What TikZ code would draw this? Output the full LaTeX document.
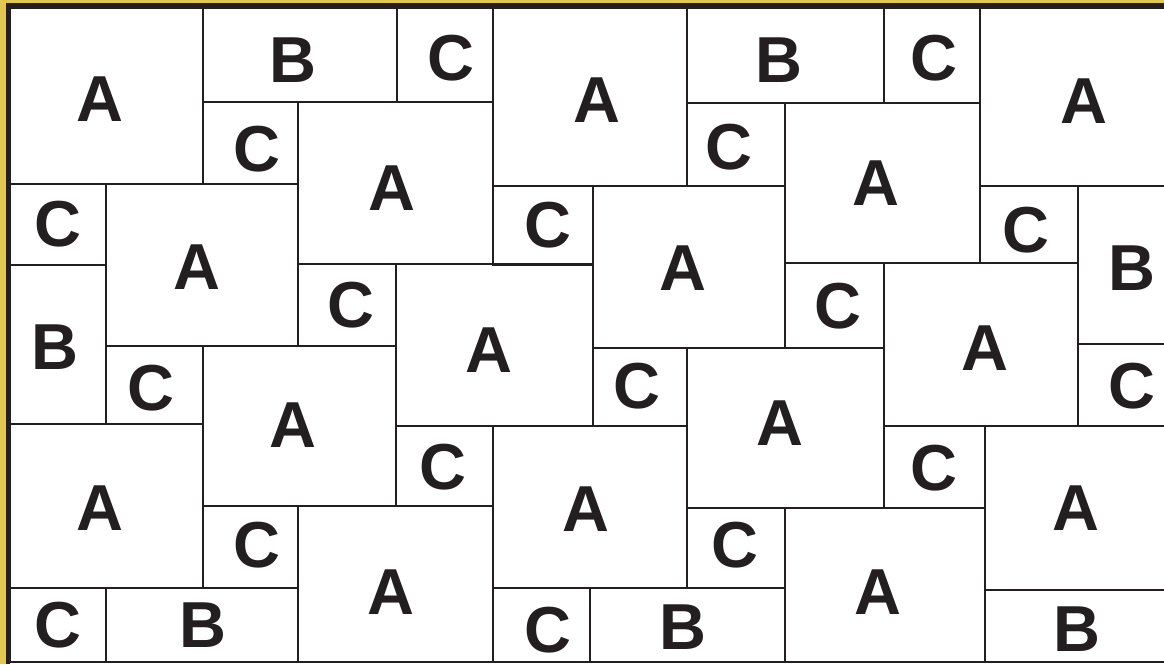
\documentclass[tikz,border=0pt]{standalone}
\usepackage{fontspec}
\setmainfont{Liberation Sans}
\definecolor{gold}{RGB}{226,200,82}
\definecolor{ink}{RGB}{35,31,32}
\begin{document}
\begin{tikzpicture}[x=1pt,y=-1pt,
  tile/.style={draw=ink,line width=2.8pt},
  lbl/.style={font=\fontsize{65}{65}\selectfont\bfseries,text=ink,inner sep=0pt}]
\useasboundingbox (0,0) rectangle (1164,664);
\fill[white] (0,0) rectangle (1164,664);
% tiles
\foreach \xa/\ya/\xb/\yb in {
  10/8/203/184, 203/8/397/102, 397/8/493/102, 203/102/298/184,
  298/102/493/264, 493/8/687/186, 687/8/884/103, 884/8/980/103,
  687/103/785/186, 785/103/980/263, 980/8/1170/186,
  10/184/106/265, 106/184/298/346, 493/186/593/265, 593/186/785/348,
  980/186/1078/263, 1078/186/1170/344,
  298/264/396/346, 396/264/593/426, 10/265/106/424, 785/263/884/348,
  884/263/1078/426, 1078/344/1170/426,
  106/346/203/424, 203/346/396/506, 593/348/687/426, 687/348/884/508,
  10/424/203/588, 396/426/493/506, 493/426/687/588, 884/426/985/508,
  985/426/1170/590,
  203/506/298/588, 298/506/493/662, 687/508/785/588, 785/508/985/662,
  10/588/106/662, 106/588/298/662, 493/588/590/662, 590/588/785/662,
  985/590/1170/662}
  \draw[tile] (\xa,\ya) rectangle (\xb,\yb);
% frame
\fill[gold] (0,0) rectangle (6,664);
\fill[gold] (0,0) rectangle (1164,3);
\fill[ink] (6,3) rectangle (10,664);
\fill[ink] (6,3) rectangle (1164,8);
% labels
\node[lbl] (a1) at (100,99) {A};
\node[lbl] (b1) at (293,60) {B};
\node[lbl] (c1) at (451,58) {C};
\node[lbl] (a2) at (597,100) {A};
\node[lbl] (b2) at (779,60) {B};
\node[lbl] (c2) at (934,58) {C};
\node[lbl] (a3) at (1084,101) {A};
\node[lbl] (c3) at (257,149) {C};
\node[lbl] (a4) at (392,188) {A};
\node[lbl] (c4) at (729,147) {C};
\node[lbl] (a5) at (876,183) {A};
\node[lbl] (c5) at (58,224) {C};
\node[lbl] (a6) at (197,267) {A};
\node[lbl] (c6) at (548,225) {C};
\node[lbl] (a7) at (683,268) {A};
\node[lbl] (c7) at (1026,230) {C};
\node[lbl] (b3) at (1132,268) {B};
\node[lbl] (c8) at (351,305) {C};
\node[lbl] (a8) at (489,350) {A};
\node[lbl] (b4) at (55,347) {B};
\node[lbl] (c9) at (838,306) {C};
\node[lbl] (a9) at (985,348) {A};
\node[lbl] (c10) at (1132,386) {C};
\node[lbl] (c11) at (151,388) {C};
\node[lbl] (a10) at (293,425) {A};
\node[lbl] (c12) at (637,386) {C};
\node[lbl] (a11) at (780,423) {A};
\node[lbl] (a12) at (100,508) {A};
\node[lbl] (c13) at (443,467) {C};
\node[lbl] (a13) at (586,509) {A};
\node[lbl] (c14) at (934,468) {C};
\node[lbl] (a14) at (1076,508) {A};
\node[lbl] (c15) at (257,545) {C};
\node[lbl] (a15) at (391,592) {A};
\node[lbl] (c16) at (735,545) {C};
\node[lbl] (a16) at (878,592) {A};
\node[lbl] (c17) at (58,625) {C};
\node[lbl] (b5) at (203,625) {B};
\node[lbl] (c18) at (548,630) {C};
\node[lbl] (b6) at (683,627) {B};
\node[lbl] (b7) at (1077,629) {B};
\end{tikzpicture}
\end{document}
